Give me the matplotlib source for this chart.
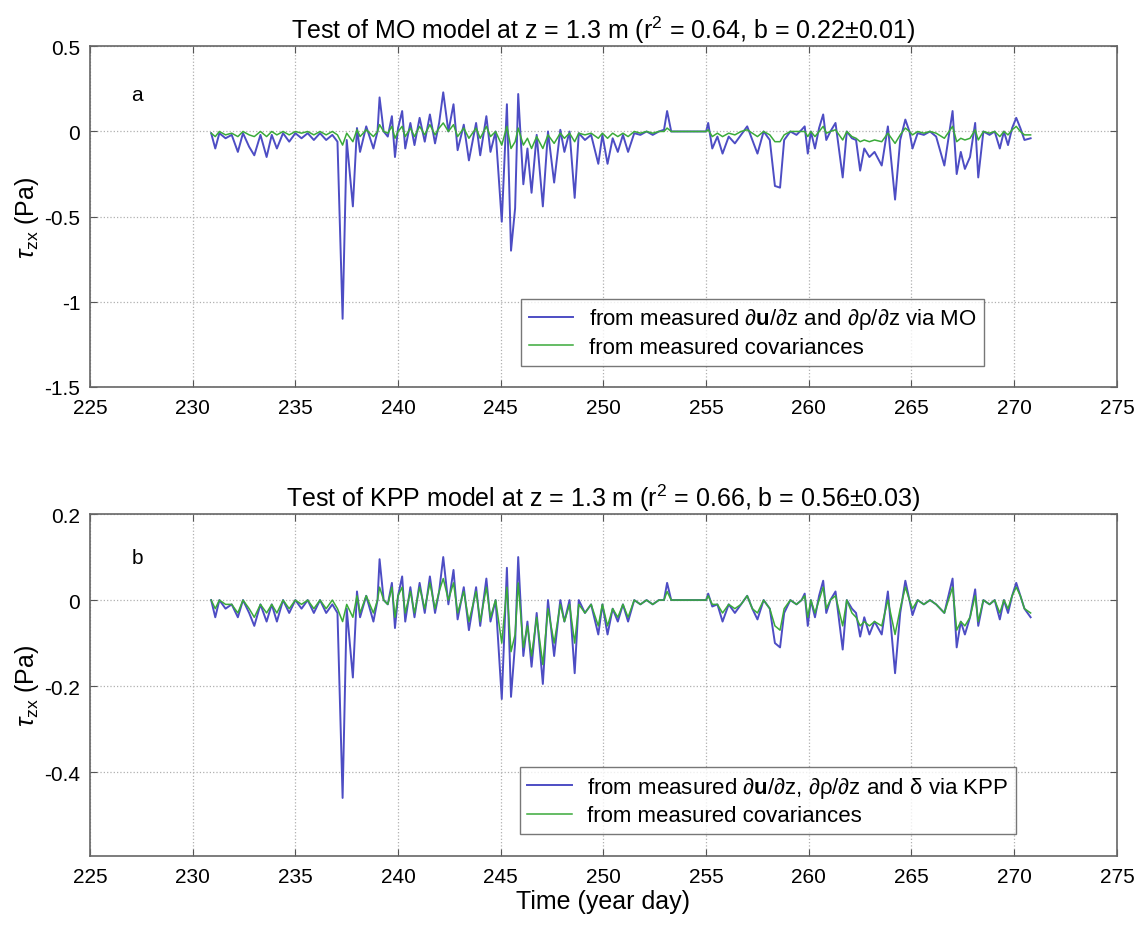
import numpy as np
import matplotlib
matplotlib.use('Agg')
import matplotlib.pyplot as plt

# year day of each vertex (shared by both panels)
day = [230.9, 231.1, 231.3, 231.6, 231.9, 232.2, 232.45, 232.75, 233.0, 233.3,
       233.6, 233.85, 234.1, 234.4, 234.7, 235.0, 235.3, 235.6, 235.9, 236.2,
       236.5, 236.8, 237.05, 237.3, 237.5, 237.8, 238.0, 238.15, 238.45, 238.8,
       239.0, 239.1, 239.3, 239.5, 239.7, 239.85, 240.0, 240.2, 240.35, 240.6,
       240.8, 241.05, 241.3, 241.55, 241.8, 242.0, 242.2, 242.45, 242.7, 242.9,
       243.2, 243.45, 243.8, 244.0, 244.3, 244.5, 244.75, 245.05, 245.3, 245.5,
       245.7, 245.85, 246.1, 246.3, 246.5, 246.75, 247.05, 247.3, 247.6, 247.9,
       248.1, 248.35, 248.6, 248.8, 249.1, 249.4, 249.75, 249.95, 250.2, 250.45,
       250.7, 250.95, 251.2, 251.5, 251.8, 252.1, 252.4, 252.7, 252.95, 253.1,
       253.3, 253.6, 254.0, 254.5, 255.0, 255.1, 255.3, 255.55, 255.8, 256.1,
       256.4, 256.7, 257.0, 257.25, 257.5, 257.8, 258.1, 258.35, 258.6, 258.8,
       259.1, 259.4, 259.65, 259.8, 259.95, 260.1, 260.3, 260.5, 260.7, 260.85,
       261.05, 261.3, 261.65, 261.85, 262.1, 262.3, 262.5, 262.7, 262.95, 263.2,
       263.55, 263.85, 264.2, 264.45, 264.7, 264.9, 265.05, 265.3, 265.6, 265.9,
       266.2, 266.6, 267.0, 267.2, 267.4, 267.6, 267.85, 268.1, 268.25, 268.5,
       268.8, 269.05, 269.3, 269.5, 269.7, 269.9, 270.1, 270.3, 270.5, 270.8]

# panel a: MO model stress and measured covariance stress (Pa)
mo_model = [-0.01, -0.10, -0.01, -0.04, -0.02, -0.12, -0.01, -0.09, -0.14, -0.02,
            -0.15, -0.02, -0.10, -0.01, -0.06, -0.01, -0.04, -0.01, -0.05, -0.01,
            -0.05, -0.02, -0.06, -1.10, -0.05, -0.44, 0.02, -0.12, 0.03, -0.10,
            0.00, 0.20, 0.00, -0.03, 0.09, -0.15, 0.02, 0.12, -0.10, 0.05,
            -0.08, 0.08, -0.06, 0.10, -0.07, 0.05, 0.23, 0.00, 0.16, -0.11,
            0.04, -0.17, 0.05, -0.14, 0.09, -0.12, 0.00, -0.53, 0.16, -0.70,
            -0.45, 0.22, -0.31, -0.10, -0.36, -0.02, -0.44, 0.00, -0.30, 0.01,
            -0.12, 0.00, -0.39, -0.01, -0.05, -0.02, -0.19, -0.02, -0.19, -0.04,
            -0.12, -0.02, -0.12, -0.01, -0.02, 0.00, -0.02, 0.00, 0.01, 0.12,
            0.00, 0.00, 0.00, 0.00, 0.00, 0.05, -0.10, -0.03, -0.13, -0.03,
            -0.07, -0.02, 0.03, -0.05, -0.13, 0.00, -0.05, -0.32, -0.33, -0.05,
            0.00, -0.02, 0.01, 0.03, -0.13, 0.00, -0.10, 0.02, 0.10, -0.05,
            0.00, 0.05, -0.27, 0.00, -0.04, -0.05, -0.23, -0.10, -0.15, -0.12,
            -0.20, 0.03, -0.40, -0.05, 0.07, 0.00, -0.10, -0.01, -0.02, 0.00,
            -0.03, -0.20, 0.12, -0.25, -0.12, -0.22, -0.15, 0.05, -0.27, 0.00,
            -0.02, 0.00, -0.10, 0.00, -0.08, 0.02, 0.08, 0.02, -0.05, -0.04]
mo_meas = [-0.01, -0.03, 0.00, -0.02, -0.01, -0.03, 0.00, -0.02, -0.03, 0.00,
           -0.03, 0.00, -0.02, 0.00, -0.02, 0.00, -0.01, 0.00, -0.02, 0.00,
           -0.02, 0.00, -0.02, -0.08, -0.01, -0.06, 0.01, -0.03, 0.01, -0.03,
           0.00, 0.04, 0.00, -0.01, 0.03, -0.04, 0.00, 0.03, -0.03, 0.02,
           -0.03, 0.03, -0.02, 0.04, -0.02, 0.02, 0.05, 0.00, 0.04, -0.03,
           0.02, -0.04, 0.02, -0.04, 0.03, -0.03, 0.00, -0.08, 0.03, -0.10,
           -0.06, 0.02, -0.08, -0.04, -0.10, -0.03, -0.10, -0.02, -0.07, -0.01,
           -0.04, -0.01, -0.06, -0.01, -0.02, -0.01, -0.04, -0.01, -0.04, -0.01,
           -0.03, -0.01, -0.03, 0.00, -0.01, 0.00, -0.01, 0.00, 0.00, 0.02,
           0.00, 0.00, 0.00, 0.00, 0.00, 0.01, -0.03, -0.01, -0.03, -0.01,
           -0.02, 0.00, 0.01, -0.01, -0.03, 0.00, -0.02, -0.06, -0.06, -0.02,
           0.00, 0.00, 0.00, 0.00, -0.03, 0.00, -0.03, 0.00, 0.03, -0.01,
           0.00, 0.01, -0.05, 0.00, -0.03, -0.04, -0.06, -0.05, -0.06, -0.05,
           -0.06, -0.01, -0.07, -0.02, 0.02, 0.00, -0.02, 0.00, -0.01, 0.00,
           -0.01, -0.04, 0.03, -0.06, -0.04, -0.05, -0.04, 0.01, -0.05, 0.00,
           -0.01, 0.00, -0.03, 0.00, -0.02, 0.01, 0.03, 0.00, -0.02, -0.02]

# panel b: KPP model stress and measured covariance stress (Pa)
kpp_model = [0.00, -0.04, 0.00, -0.02, -0.01, -0.04, 0.00, -0.03, -0.06, -0.01,
             -0.05, -0.01, -0.05, 0.00, -0.03, 0.00, -0.02, 0.00, -0.03, 0.00,
             -0.03, -0.01, -0.03, -0.46, -0.02, -0.18, 0.02, -0.04, 0.01, -0.05,
             0.00, 0.095, 0.00, -0.01, 0.04, -0.065, 0.01, 0.055, -0.05, 0.03,
             -0.04, 0.04, -0.03, 0.055, -0.03, 0.02, 0.10, -0.01, 0.07, -0.045,
             0.03, -0.07, 0.03, -0.06, 0.05, -0.05, 0.00, -0.23, 0.075, -0.225,
             -0.10, 0.10, -0.13, -0.05, -0.155, -0.03, -0.195, 0.00, -0.13, 0.00,
             -0.05, 0.00, -0.17, 0.00, -0.03, -0.01, -0.08, -0.01, -0.08, -0.02,
             -0.05, -0.01, -0.05, 0.00, -0.01, 0.00, -0.01, 0.00, 0.00, 0.04,
             0.00, 0.00, 0.00, 0.00, 0.00, 0.015, -0.015, -0.01, -0.05, -0.01,
             -0.03, -0.01, 0.01, -0.02, -0.045, 0.00, -0.02, -0.10, -0.11, -0.03,
             0.00, -0.01, 0.00, 0.015, -0.06, 0.00, -0.04, 0.01, 0.045, -0.03,
             0.00, 0.02, -0.115, 0.00, -0.02, -0.03, -0.085, -0.04, -0.08, -0.05,
             -0.08, 0.02, -0.17, -0.03, 0.045, 0.00, -0.035, 0.00, -0.01, 0.00,
             -0.01, -0.03, 0.05, -0.11, -0.05, -0.08, -0.04, 0.025, -0.06, 0.00,
             -0.01, 0.00, -0.045, 0.00, -0.03, 0.01, 0.04, 0.01, -0.02, -0.04]
kpp_meas = [0.00, -0.02, 0.00, -0.01, -0.01, -0.03, 0.00, -0.02, -0.04, -0.01,
            -0.03, -0.01, -0.03, 0.00, -0.02, 0.00, -0.01, 0.00, -0.02, 0.00,
            -0.02, 0.00, -0.02, -0.05, -0.01, -0.04, 0.01, -0.03, 0.01, -0.03,
            0.00, 0.03, 0.00, -0.01, 0.03, -0.04, 0.01, 0.03, -0.03, 0.02,
            -0.03, 0.03, -0.02, 0.04, -0.02, 0.02, 0.05, 0.00, 0.04, -0.03,
            0.02, -0.05, 0.02, -0.05, 0.03, -0.04, 0.00, -0.10, 0.03, -0.12,
            -0.08, 0.04, -0.11, -0.06, -0.13, -0.04, -0.15, -0.02, -0.10, -0.01,
            -0.05, -0.01, -0.10, -0.01, -0.03, -0.01, -0.06, -0.01, -0.06, -0.02,
            -0.04, -0.01, -0.04, 0.00, -0.01, 0.00, -0.01, 0.00, 0.00, 0.02,
            0.00, 0.00, 0.00, 0.00, 0.00, 0.01, -0.01, -0.01, -0.03, -0.01,
            -0.02, -0.01, 0.01, -0.02, -0.03, 0.00, -0.02, -0.06, -0.07, -0.02,
            0.00, -0.01, 0.00, 0.01, -0.04, 0.00, -0.03, 0.00, 0.03, -0.02,
            0.00, 0.01, -0.06, 0.00, -0.03, -0.04, -0.06, -0.05, -0.06, -0.05,
            -0.06, 0.00, -0.08, -0.02, 0.03, 0.00, -0.02, 0.00, -0.01, 0.00,
            -0.01, -0.03, 0.03, -0.07, -0.05, -0.06, -0.04, 0.01, -0.05, 0.00,
            -0.01, 0.00, -0.03, 0.00, -0.02, 0.01, 0.03, 0.01, -0.02, -0.03]

blue = '#4d4dc4'
green = '#3aaa3a'
plt.rcParams['font.family'] = 'Liberation Sans'
plt.rcParams['mathtext.fontset'] = 'custom'
plt.rcParams['mathtext.rm'] = 'Liberation Sans'
plt.rcParams['mathtext.bf'] = 'Liberation Sans:bold'
plt.rcParams['mathtext.it'] = 'Liberation Sans:italic'

fig = plt.figure(figsize=(11.42, 9.28), dpi=100)
ax1 = fig.add_axes([0.0788, 0.582, 0.8992, 0.367])
ax2 = fig.add_axes([0.0788, 0.0765, 0.8992, 0.3685])


def style_axes(ax):
    ax.set_xlim(225, 275)
    ax.set_xticks(np.arange(225, 276, 5))
    ax.grid(True, color='#b0b0b0', linestyle=':', linewidth=0.9)
    ax.tick_params(direction='in', top=True, right=True, labelsize=15,
                   length=5, color='#555555')
    ax.tick_params(axis='x', pad=8)
    ax.tick_params(axis='y', pad=7)
    for s in ax.spines.values():
        s.set_color('#666666')
        s.set_linewidth(1.2)
    ax.set_ylabel(r'$\tau_{\rm zx}$ (Pa)', fontsize=18, labelpad=2)


ax1.plot(day, mo_model, color=blue, lw=1.4,
         label='from measured ∂$\\mathbf{u}$/∂z and ∂ρ/∂z via MO')
ax1.plot(day, mo_meas, color=green, lw=1.1, label='from measured covariances')
style_axes(ax1)
ax1.set_ylim(-1.5, 0.5)
ax1.set_yticks([-1.5, -1, -0.5, 0, 0.5])
ax1.set_yticklabels(['-1.5', '-1', '-0.5', '0', '0.5'])
ax1.set_title('Test of MO model at z = 1.3 m (r$^2$ = 0.64, b = 0.22±0.01)',
              fontsize=18, pad=6)
ax1.text(227.3, 0.22, 'a', fontsize=15, ha='center', va='center')
ax1.legend(loc='lower right', bbox_to_anchor=(0.871, 0.062), fontsize=16,
           fancybox=False, edgecolor='#555555', borderaxespad=0,
           handlelength=2.0, handletextpad=0.7, borderpad=0.35, labelspacing=0.25)

ax2.plot(day, kpp_model, color=blue, lw=1.4,
         label='from measured ∂$\\mathbf{u}$/∂z, ∂ρ/∂z and δ via KPP')
ax2.plot(day, kpp_meas, color=green, lw=1.1, label='from measured covariances')
style_axes(ax2)
ax2.set_ylim(-0.595, 0.2)
ax2.set_yticks([-0.4, -0.2, 0, 0.2])
ax2.set_yticklabels(['-0.4', '-0.2', '0', '0.2'])
ax2.set_title('Test of KPP model at z = 1.3 m (r$^2$ = 0.66, b = 0.56±0.03)',
              fontsize=18, pad=6)
ax2.text(227.3, 0.10, 'b', fontsize=15, ha='center', va='center')
ax2.legend(loc='lower right', bbox_to_anchor=(0.902, 0.064), fontsize=16,
           fancybox=False, edgecolor='#555555', borderaxespad=0,
           handlelength=2.0, handletextpad=0.7, borderpad=0.35, labelspacing=0.25)
ax2.set_xlabel('Time (year day)', fontsize=18, labelpad=2)

fig.savefig('out.png', dpi=100)
